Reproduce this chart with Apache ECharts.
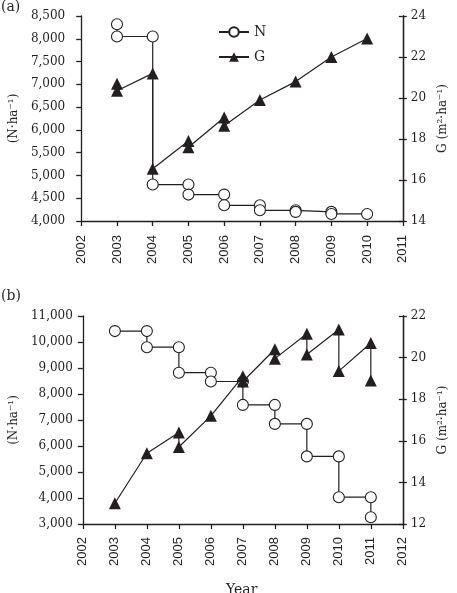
<!DOCTYPE html>
<html>
<head>
<meta charset="utf-8">
<script src="https://cdn.jsdelivr.net/npm/echarts@6/dist/echarts.min.js"></script>
<style>
html,body{margin:0;padding:0;background:#fff;}
#chart{width:457px;height:593px;}
</style>
</head>
<body>
<div id="chart"></div>
<script>
// ---- Panel (a) ----
const aNYears  = [2003, 2003, 2004, 2004, 2005, 2005, 2006, 2006, 2007, 2007, 2008, 2008, 2009, 2009, 2010];
const aNValues = [8320, 8050, 8050, 4800, 4800, 4580, 4580, 4345, 4345, 4235, 4235, 4200, 4200, 4155, 4155];
const aGYears  = [2003, 2003, 2004, 2004, 2005, 2005, 2006, 2006, 2007, 2008, 2009, 2010];
const aGValues = [20.7, 20.35, 21.2, 16.55, 17.9, 17.6, 19.05, 18.65, 19.9, 20.8, 22.0, 22.9];
const aXTicks = {min: 2002, max: 2011};
// ---- Panel (b) ----
const bNYears  = [2003, 2004, 2004, 2005, 2005, 2006, 2006, 2007, 2007, 2008, 2008, 2009, 2009, 2010, 2010, 2011, 2011];
const bNValues = [10420, 10420, 9800, 9800, 8820, 8820, 8480, 8480, 7580, 7580, 6850, 6850, 5600, 5600, 4030, 4030, 3260];
const bGYears  = [2003, 2004, 2005, 2005, 2006, 2007, 2007, 2008, 2008, 2009, 2009, 2010, 2010, 2011, 2011];
const bGValues = [13.0, 15.4, 16.4, 15.7, 17.2, 19.1, 18.85, 20.4, 19.95, 21.15, 20.15, 21.35, 19.35, 20.7, 18.9];
const bXTicks = {min: 2002, max: 2012};

const INK = '#231f20';
const SERIF = 'DejaVu Serif';
const SANS = 'Liberation Sans';
const pairs = (xs, ys) => xs.map((x, i) => [x, ys[i]]);

function xAx(gi, t, margin) {
  return {
    type: 'value', gridIndex: gi, min: t.min, max: t.max, interval: 1,
    axisLine: {onZero: false, lineStyle: {color: INK, width: 1.3}},
    axisTick: {show: true, length: 5, lineStyle: {color: INK, width: 1.3}},
    axisLabel: {rotate: 90, margin: margin, color: INK, fontFamily: SANS, fontSize: 13, formatter: v => String(v)},
    splitLine: {show: false}
  };
}
function yLeft(gi, min, max, interval, margin) {
  return {
    type: 'value', gridIndex: gi, position: 'left', min, max, interval,
    name: '(N·ha⁻¹)', nameLocation: 'middle', nameRotate: 90, nameGap: 55,
    nameTextStyle: {color: INK, fontFamily: SERIF, fontSize: 12},
    axisLine: {show: true, lineStyle: {color: INK, width: 1.3}},
    axisTick: {show: true, length: 5, lineStyle: {color: INK, width: 1.3}},
    axisLabel: {margin: margin, color: INK, fontFamily: SERIF, fontSize: 12, formatter: v => v.toLocaleString('en-US')},
    splitLine: {show: false}
  };
}
function yRight(gi, min, max, interval, withLabels) {
  return {
    type: 'value', gridIndex: gi, position: 'right', min, max, interval,
    name: withLabels ? 'G (m²·ha⁻¹)' : '', nameLocation: 'middle', nameRotate: 90, nameGap: 33,
    nameTextStyle: {color: INK, fontFamily: SERIF, fontSize: 12},
    axisLine: {show: true, lineStyle: {color: INK, width: 1.3}},
    axisTick: {show: true, length: 4, inside: !withLabels, lineStyle: {color: INK, width: 1.3}},
    axisLabel: {show: withLabels, margin: 8, color: INK, fontFamily: SERIF, fontSize: 12},
    splitLine: {show: false}
  };
}
const nSeries = (name, xi, yi, data) => ({
  name, type: 'line', xAxisIndex: xi, yAxisIndex: yi, data,
  symbol: 'circle', symbolSize: 11, z: 3,
  lineStyle: {color: INK, width: 1.2},
  itemStyle: {color: '#fff', borderColor: INK, borderWidth: 1.1},
  emphasis: {disabled: true}
});
const gSeries = (name, xi, yi, data) => ({
  name, type: 'line', xAxisIndex: xi, yAxisIndex: yi, data,
  symbol: 'triangle', symbolSize: 12, z: 4,
  lineStyle: {color: INK, width: 1.2},
  itemStyle: {color: INK},
  emphasis: {disabled: true}
});

const chart = echarts.init(document.getElementById('chart'), null, {renderer: 'canvas'});
chart.setOption({
  animation: false,
  backgroundColor: '#fff',
  grid: [
    {left: 73, right: 52, top: 16, height: 205},
    {left: 73, right: 52, top: 316, height: 208}
  ],
  xAxis: [xAx(0, aXTicks, 14), xAx(1, bXTicks, 13)],
  yAxis: [
    yLeft(0, 4000, 8500, 500, 16),
    yRight(0, 14, 24, 2, true),
    yLeft(1, 3000, 11000, 1000, 10),
    yRight(1, 12, 22, 2, true),
    yRight(0, 14, 24, 2, false),
    yRight(1, 12, 22, 2, false)
  ],
  legend: {
    left: 213, top: 20, orient: 'vertical', itemGap: 11, itemWidth: 30, itemHeight: 12,
    data: ['N', 'G'],
    textStyle: {color: INK, fontFamily: SERIF, fontSize: 14}
  },
  graphic: [
    {type: 'text', left: 1, top: 0, style: {text: '(a)', fill: INK, font: '14px "DejaVu Serif"'}},
    {type: 'text', left: 1, top: 289, style: {text: '(b)', fill: INK, font: '14px "DejaVu Serif"'}},
    {type: 'text', left: 226, top: 583, style: {text: 'Year', fill: INK, font: '14px "DejaVu Serif"'}}
  ],
  series: [
    nSeries('N', 0, 0, pairs(aNYears, aNValues)),
    gSeries('G', 0, 1, pairs(aGYears, aGValues)),
    nSeries('N', 1, 2, pairs(bNYears, bNValues)),
    gSeries('G', 1, 3, pairs(bGYears, bGValues))
  ]
});
</script>
</body>
</html>
